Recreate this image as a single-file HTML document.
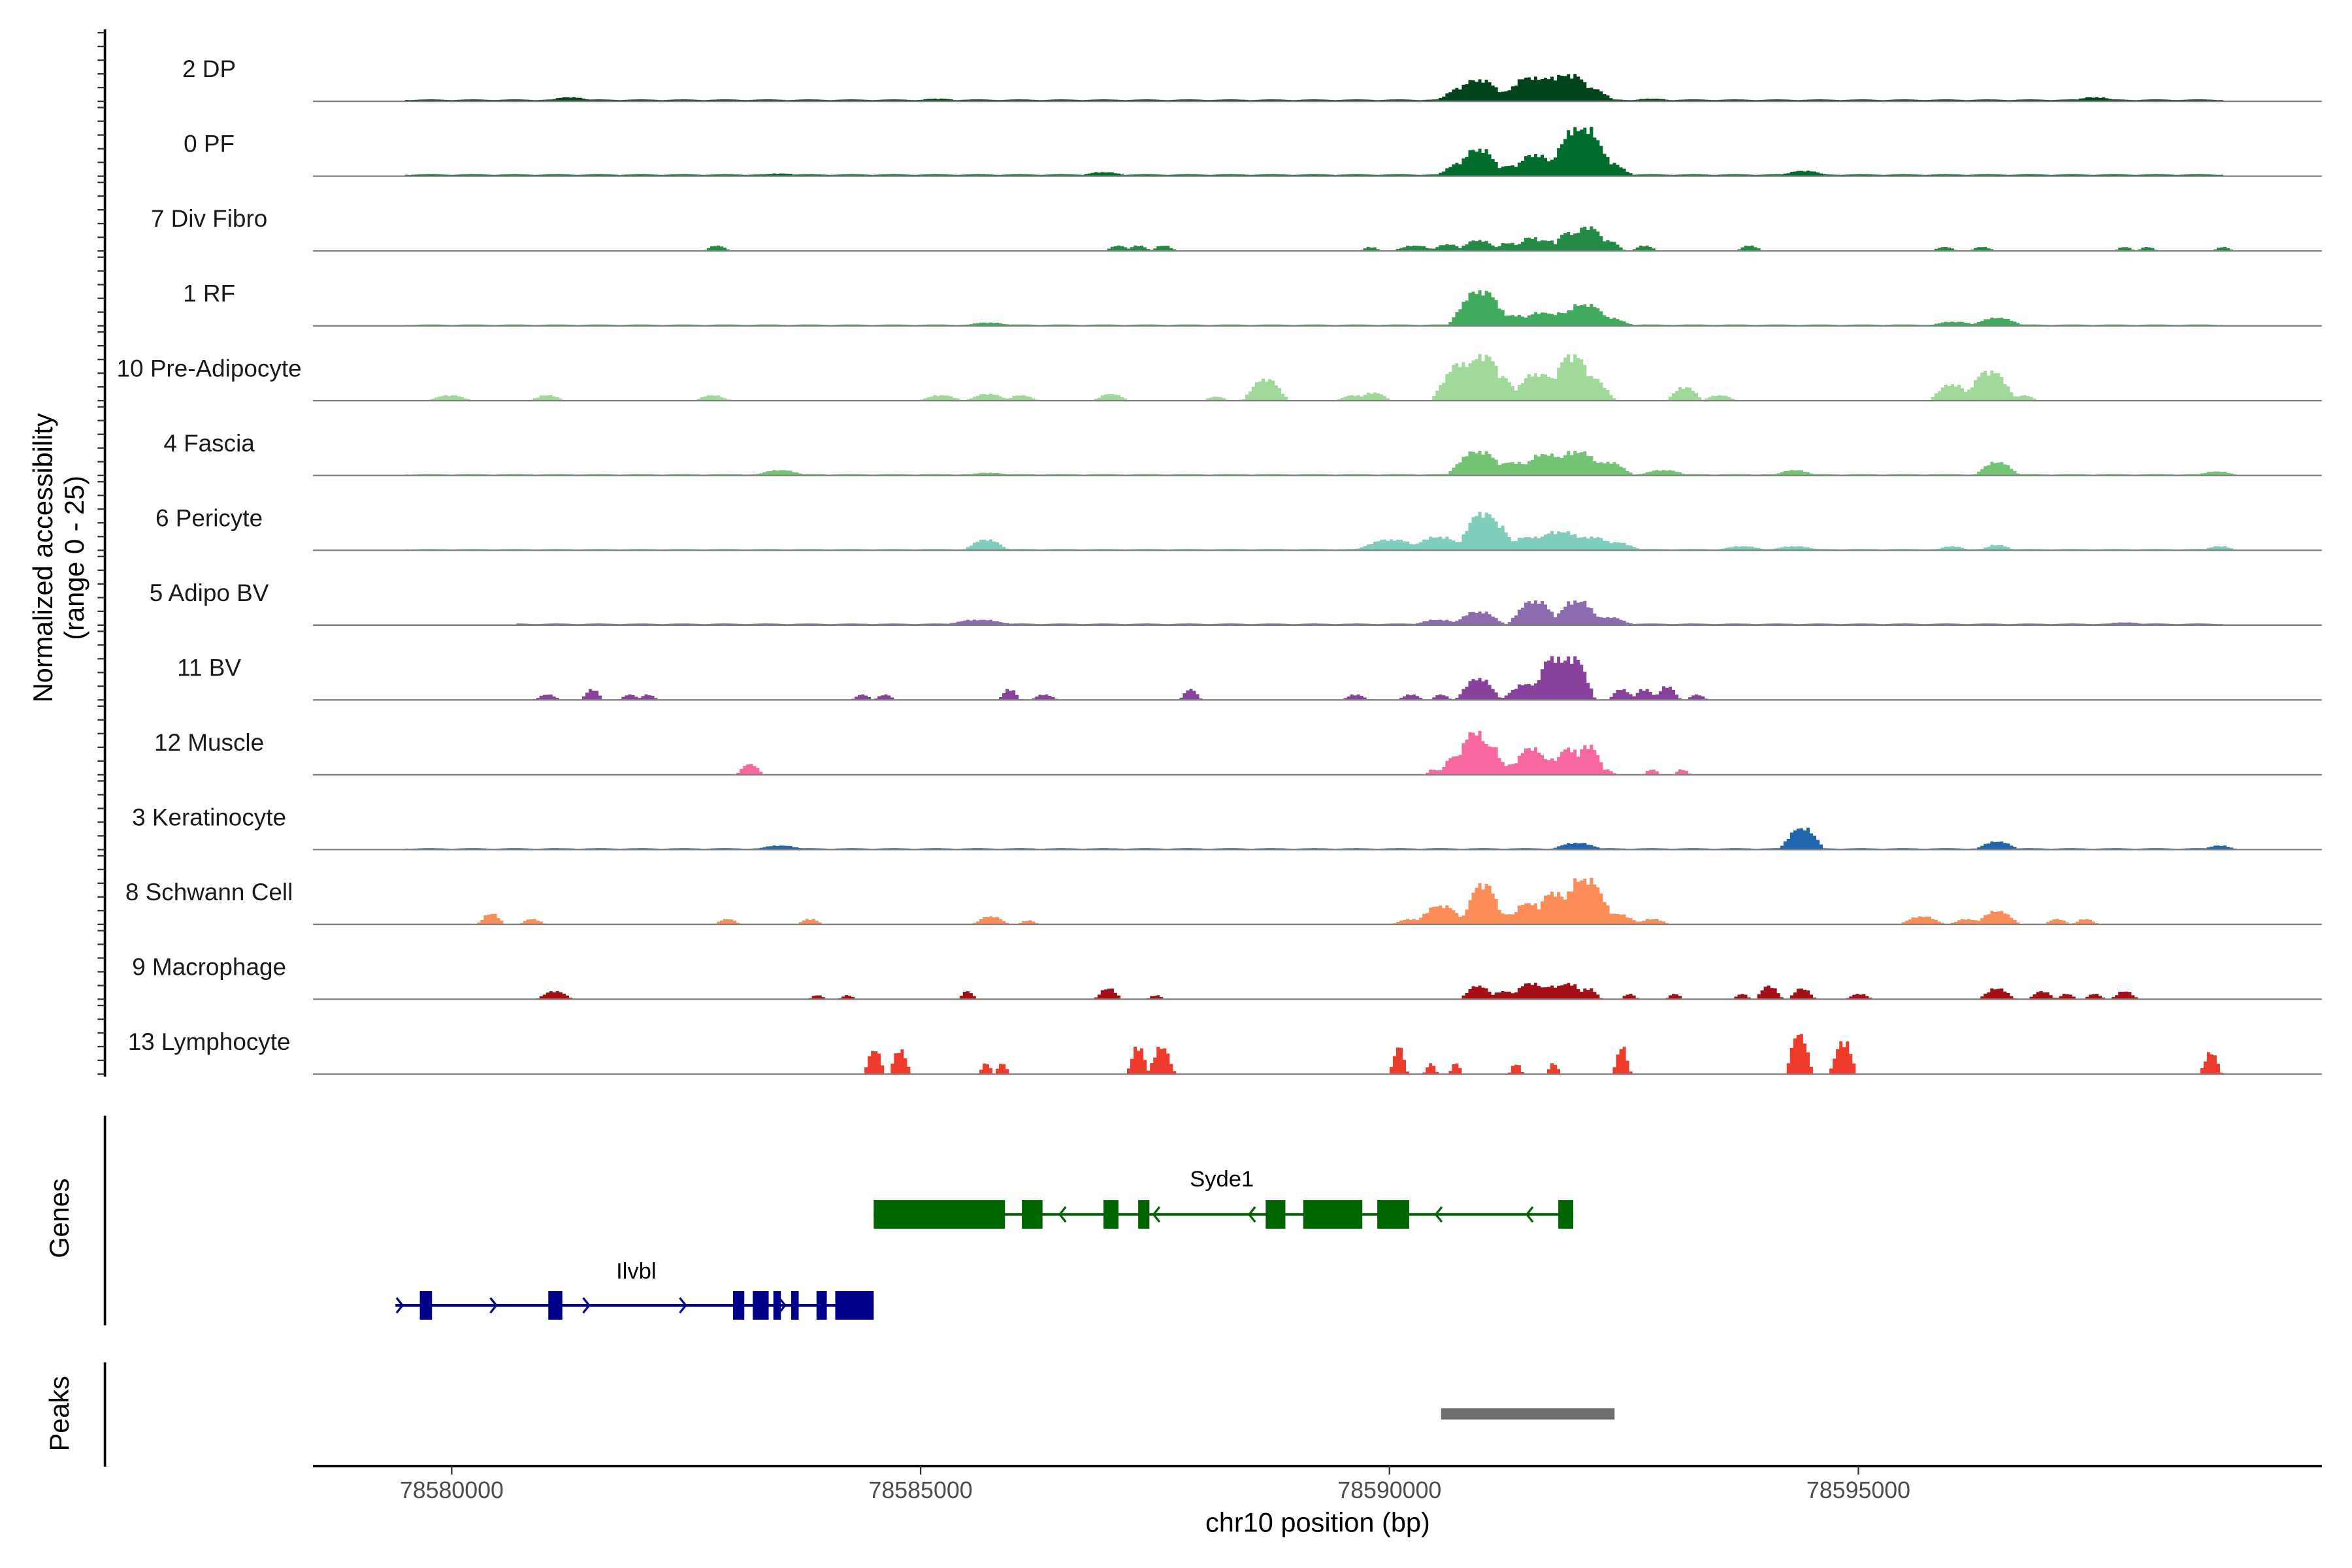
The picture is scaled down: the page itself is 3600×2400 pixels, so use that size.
<!DOCTYPE html>
<html><head><meta charset="utf-8"><style>
html,body{margin:0;padding:0;background:#fff;}
svg{display:block;font-family:"Liberation Sans",Arial,sans-serif;}
</style></head><body>
<svg id="chart" width="3600" height="2400" viewBox="0 0 1560 1040" xmlns="http://www.w3.org/2000/svg">
<rect width="1560" height="1040" fill="#fff"/>
<g id="tracks"></g>
<g id="genes"></g>
<g id="peaks"></g>
<g id="axes"></g>
</svg>
<script>
// ---- data (positions in kb offset from 78580000, values 0-25) ----
const trackNames = ["2 DP","0 PF","7 Div Fibro","1 RF","10 Pre-Adipocyte","4 Fascia","6 Pericyte","5 Adipo BV","11 BV","12 Muscle","3 Keratinocyte","8 Schwann Cell","9 Macrophage","13 Lymphocyte"];
const trackColors = ["#00441b","#006d2c","#238b45","#41ab5d","#a1d99b","#74c476","#7fcdbb","#8c6bb1","#88419d","#f768a1","#2166ac","#fc8d59","#a50f15","#ef3b2c"];
const trackBackground = [0.7,0.7,0,0.5,0,0.5,0.5,0.6,0,0,0.5,0,0,0];
const bgStart = [-0.51,-0.51,0,-0.51,0,-0.51,-0.51,0.7,0,0,-0.51,0,0,0];
const bgEnd = [18.89,18.89,0,18.89,0,18.89,18.89,18.89,0,0,18.89,0,0,0];
const peaks_DP = [[1.26,1.5,0.3],[5.18,1,0.3],[10.79,5,0.3],[10.95,8,0.35],[11.32,4,0.3],[11.51,9,0.35],[11.75,9,0.35],[11.91,10,0.35],[12.12,5,0.3],[12.8,1,0.3],[17.52,1.5,0.3]];
const peaks_PF = [[3.5,1,0.3],[6.95,1.5,0.3],[10.79,5,0.3],[10.95,10,0.3],[11.32,4,0.3],[11.55,8,0.3],[11.72,6,0.25],[12.04,18,0.4],[12.32,5,0.3],[14.42,2,0.3]];
const peaks_DivFibro = [[2.83,2,0.15],[7.11,2,0.15],[7.32,2,0.15],[7.59,2,0.15],[9.8,1.5,0.12],[10.27,2,0.25],[10.62,2.5,0.2],[10.95,4,0.25],[11.27,3,0.2],[11.51,5,0.2],[11.67,4,0.2],[11.91,7,0.2],[12.12,9,0.25],[12.32,4,0.2],[12.72,2,0.15],[13.84,2,0.15],[15.92,1.5,0.15],[16.32,1.5,0.15],[17.84,1.5,0.12],[18.08,1.5,0.12],[18.89,1.5,0.12]];
const peaks_RF = [[5.72,1.2,0.3],[10.97,13,0.35],[11.32,4,0.3],[11.62,5,0.3],[11.87,5,0.3],[12.08,8,0.35],[12.32,3,0.3],[16.02,1.5,0.3],[16.48,3,0.3]];
const peaks_PreAdipo = [[-0.02,2,0.25],[1.02,2,0.2],[2.78,2,0.2],[5.22,2,0.25],[5.72,2.5,0.25],[6.07,2,0.2],[7.03,2.5,0.2],[8.15,1.5,0.15],[8.68,8,0.25],[9.62,2,0.2],[9.83,3,0.2],[10.79,14,0.35],[11.0,17,0.3],[11.17,9,0.25],[11.59,10,0.35],[11.95,17,0.3],[12.12,9,0.3],[13.15,5,0.2],[13.52,2,0.2],[16.0,6,0.25],[16.4,11,0.3],[16.77,2,0.15]];
const peaks_Fascia = [[3.5,2,0.3],[5.72,1,0.3],[10.95,9,0.35],[11.32,5,0.3],[11.67,8,0.35],[12.0,9,0.35],[12.32,5,0.3],[12.92,2,0.3],[14.32,2,0.25],[16.48,5,0.25],[18.82,1.5,0.25]];
const peaks_Pericyte = [[5.7,4,0.25],[10.02,4,0.4],[10.52,5,0.35],[11.0,14,0.3],[11.12,10,0.25],[11.52,5,0.4],[11.82,7,0.4],[12.12,5,0.4],[12.4,3,0.3],[13.76,1.5,0.3],[14.32,1.5,0.3],[16.0,1.5,0.2],[16.48,2,0.2],[18.85,1.5,0.2]];
const peaks_AdipoBV = [[5.62,2,0.4],[10.52,2,0.3],[10.95,5,0.3],[11.55,9,0.3],[12.0,9,0.3],[12.32,3,0.3],[17.84,1,0.3]];
const peaks_BV = [[1.02,2,0.15],[1.5,4,0.12],[1.9,2,0.12],[2.09,2,0.12],[4.38,2,0.12],[4.62,2,0.12],[5.95,4,0.12],[6.32,2,0.15],[7.88,4,0.12],[9.64,2,0.15],[10.23,2,0.15],[10.55,2,0.12],[10.95,8,0.25],[11.48,6,0.3],[11.75,16,0.25],[11.95,16,0.25],[12.48,4,0.15],[12.72,4,0.15],[12.96,5,0.15],[13.28,2,0.12]];
const peaks_Muscle = [[3.18,4,0.15],[10.47,2,0.1],[10.71,7,0.2],[10.91,16,0.25],[11.07,11,0.2],[11.32,4,0.2],[11.51,10,0.25],[11.72,6,0.2],[11.91,10,0.2],[12.12,11,0.2],[12.32,2,0.1],[12.8,2,0.1],[13.12,2,0.1]];
const peaks_Kerat = [[3.5,1.5,0.3],[12.0,2.5,0.3],[14.4,8,0.25],[16.48,3,0.25],[18.85,1.5,0.2]];
const peaks_Schwann = [[0.42,4,0.15],[0.86,2,0.15],[2.94,2,0.15],[3.82,2,0.15],[5.75,3,0.2],[6.15,1.5,0.12],[10.22,2,0.2],[10.55,7,0.3],[11.0,15,0.25],[11.22,4,0.2],[11.48,8,0.25],[11.75,12,0.25],[12.08,17,0.35],[12.4,4,0.3],[12.8,2,0.2],[15.68,3,0.25],[16.16,2,0.2],[16.48,5,0.25],[17.12,2,0.15],[17.42,2,0.15]];
const peaks_Macro = [[1.1,3,0.2],[3.9,1.5,0.1],[4.22,1.5,0.1],[5.5,3,0.1],[7.0,4,0.15],[7.51,1.5,0.1],[10.95,5,0.2],[11.22,3,0.2],[11.51,6,0.25],[11.75,5,0.25],[11.91,6,0.2],[12.12,4,0.15],[12.56,2,0.1],[13.04,2,0.1],[13.76,2,0.1],[14.05,5,0.15],[14.4,4,0.15],[15.01,2,0.15],[16.48,4,0.2],[16.96,3,0.15],[17.22,2,0.12],[17.52,2,0.12],[17.84,3,0.15]];
const peaks_Lymph = [[4.51,9,0.12],[4.78,9,0.12],[5.7,4,0.08],[5.87,4,0.08],[7.32,10,0.12],[7.57,10,0.15],[10.1,10,0.1],[10.44,4,0.08],[10.71,4,0.08],[11.35,4,0.08],[11.75,4,0.08],[12.48,10,0.1],[14.37,15,0.15],[14.84,12,0.15],[18.76,8,0.12]];
const trackPeaks = [peaks_DP,peaks_PF,peaks_DivFibro,peaks_RF,peaks_PreAdipo,peaks_Fascia,peaks_Pericyte,peaks_AdipoBV,peaks_BV,peaks_Muscle,peaks_Kerat,peaks_Schwann,peaks_Macro,peaks_Lymph];
const ilvblSpan = [-0.6,4.50];
const ilvblExons = [[-0.34,-0.21],[1.03,1.18],[3.0,3.12],[3.21,3.38],[3.43,3.51],[3.62,3.70],[3.89,4.0],[4.09,4.50]];
const ilvblArrows = [-0.54,0.46,1.45,2.48,3.54];
const syde1Span = [4.50,11.96];
const syde1Exons = [[4.50,5.90],[6.08,6.30],[6.95,7.11],[7.32,7.44],[8.68,8.89],[9.08,9.71],[9.87,10.21],[11.80,11.96]];
const syde1Arrows = [6.50,7.50,8.52,10.51,11.48];
const peakRegions = [[10.55,12.40]];
const xTicks = [0,5,10,15];
const xTickLabels = ["78580000","78585000","78590000","78595000"];

// ---- scales ----
const X0 = 299.6, PXPERKB = 62.2;
function xs(kb){ return X0 + kb*PXPERKB; }
const PLOT_L = 207.6, PLOT_R = 1540;
const TRACK0 = 67.2, TRACK_STEP = 49.63, YPER = 45.5/25;
function ys(i,v){ return TRACK0 + i*TRACK_STEP - v*YPER; }
const NS = "http://www.w3.org/2000/svg";
function mk(tag, attrs, parent){ const e=document.createElementNS(NS,tag); for(const k in attrs) e.setAttribute(k,attrs[k]); parent.appendChild(e); return e; }

const gT = document.getElementById('tracks');
const kbMin = (PLOT_L-X0)/PXPERKB, kbMax = (PLOT_R-X0)/PXPERKB, BIN = 0.035;
trackNames.forEach((name,i)=>{
  const g = mk('g',{},gT);
  
  
  let d = 'M'+PLOT_L+','+ys(i,0);
  for(let k=kbMin;k<kbMax;k+=BIN){
    const c = k+BIN/2;
    let v = (c>=bgStart[i] && c<=bgEnd[i] && trackBackground[i]>0) ? trackBackground[i]*(0.6+0.4*Math.abs(Math.sin(c*7))) : 0;
    trackPeaks[i].forEach(p=>{
      const dd = Math.abs(c-p[0]);
      if(dd<p[2]){ const f=Math.min(1,1.4*(1-dd/p[2])); v=Math.max(v, p[1]*f*(0.82+0.18*Math.abs(Math.cos(c*53)))); }
    });
    v=Math.min(v,25);
    d += 'L'+xs(k).toFixed(2)+','+ys(i,v).toFixed(2)+'L'+xs(k+BIN).toFixed(2)+','+ys(i,v).toFixed(2);
  }
  d += 'L'+PLOT_R+','+ys(i,0)+'Z';
  const area = mk('path',{d:d,fill:trackColors[i],stroke:'none'},g);
  
  
  const base = mk('line',{x1:PLOT_L,x2:PLOT_R,y1:ys(i,0),y2:ys(i,0),stroke:'#808080','stroke-width':1},g);
  
  
  const lab = mk('text',{x:138.7,y:ys(i,0)-16,'text-anchor':'middle','font-size':16,fill:'#1a1a1a'},g);
  lab.textContent = name;
  
  
});

// ---- genes ----
const gG = document.getElementById('genes');
function drawGene(span, exons, arrows, color, yc, label, labelX, labelY, dir){
  const g = mk('g',{},gG);
  
  
  mk('line',{x1:xs(span[0]),x2:xs(span[1]),y1:yc,y2:yc,stroke:color,'stroke-width':1.7},g);
  exons.forEach(e=>{
    const r = mk('rect',{x:xs(e[0]),y:yc-9.5,width:xs(e[1])-xs(e[0]),height:19,fill:color},g);
    
    
  });
  arrows.forEach(a=>{
    const x=xs(a);
    mk('path',{d:'M'+(x-dir*3)+','+(yc-5)+'L'+(x+dir*1)+','+yc+'L'+(x-dir*3)+','+(yc+5),fill:'none',stroke:color,'stroke-width':1.4},g);
  });
  const t = mk('text',{x:labelX,y:labelY,'text-anchor':'middle','font-size':15,fill:'#000'},g);
  t.textContent=label;
  
  
}
drawGene(syde1Span, syde1Exons, syde1Arrows, '#006400', 805.5, 'Syde1', 810.4, 787, -1);
drawGene(ilvblSpan, ilvblExons, ilvblArrows, '#00008b', 865.8, 'Ilvbl', 422, 848, 1);

// ---- peaks ----
const gP = document.getElementById('peaks');
peakRegions.forEach(p=>{
  const r = mk('rect',{x:xs(p[0]),y:934,width:xs(p[1])-xs(p[0]),height:7.5,fill:'#6e6e6e'},gP);
  
  
});

// ---- axes ----
const gA = document.getElementById('axes');
const yl = mk('line',{x1:69.6,x2:69.6,y1:19.5,y2:714,stroke:'#000','stroke-width':1.6},gA);


for(let i=0;i<trackNames.length;i++){
  for(let v=0;v<=25;v+=5){
    const tk = mk('line',{x1:64.7,x2:69.6,y1:ys(i,v),y2:ys(i,v),stroke:'#333','stroke-width':1},gA);
    
    
  }
}
const gl = mk('line',{x1:69.6,x2:69.6,y1:740,y2:879,stroke:'#000','stroke-width':1.6},gA);
 
const pl = mk('line',{x1:69.6,x2:69.6,y1:903.6,y2:972.8,stroke:'#000','stroke-width':1.6},gA);
 
const xl = mk('line',{x1:PLOT_L,x2:PLOT_R,y1:972.4,y2:972.4,stroke:'#000','stroke-width':1.6},gA);
 
xTicks.forEach((t,i)=>{
  const tk = mk('line',{x1:xs(t),x2:xs(t),y1:972.4,y2:978,stroke:'#333','stroke-width':1},gA);
   
  const tl = mk('text',{x:xs(t),y:993.6,'text-anchor':'middle','font-size':15.5,fill:'#4d4d4d'},gA);
  tl.textContent = xTickLabels[i];
   
});
const xt = mk('text',{x:874,y:1016,'text-anchor':'middle','font-size':18,fill:'#000'},gA);
xt.textContent='chr10 position (bp)';
 
const yt1 = mk('text',{x:0,y:0,'text-anchor':'middle','font-size':18,fill:'#000',transform:'translate(34.7,370) rotate(-90)'},gA);
yt1.textContent='Normalized accessibility';
 
const yt2 = mk('text',{x:0,y:0,'text-anchor':'middle','font-size':18,fill:'#000',transform:'translate(55.5,370) rotate(-90)'},gA);
yt2.textContent='(range 0 - 25)';
 
const gt = mk('text',{x:0,y:0,'text-anchor':'middle','font-size':18,fill:'#000',transform:'translate(45.5,808) rotate(-90)'},gA);
gt.textContent='Genes';
 
const pt = mk('text',{x:0,y:0,'text-anchor':'middle','font-size':18,fill:'#000',transform:'translate(45.5,937.6) rotate(-90)'},gA);
pt.textContent='Peaks';
 
</script>
</body></html>
